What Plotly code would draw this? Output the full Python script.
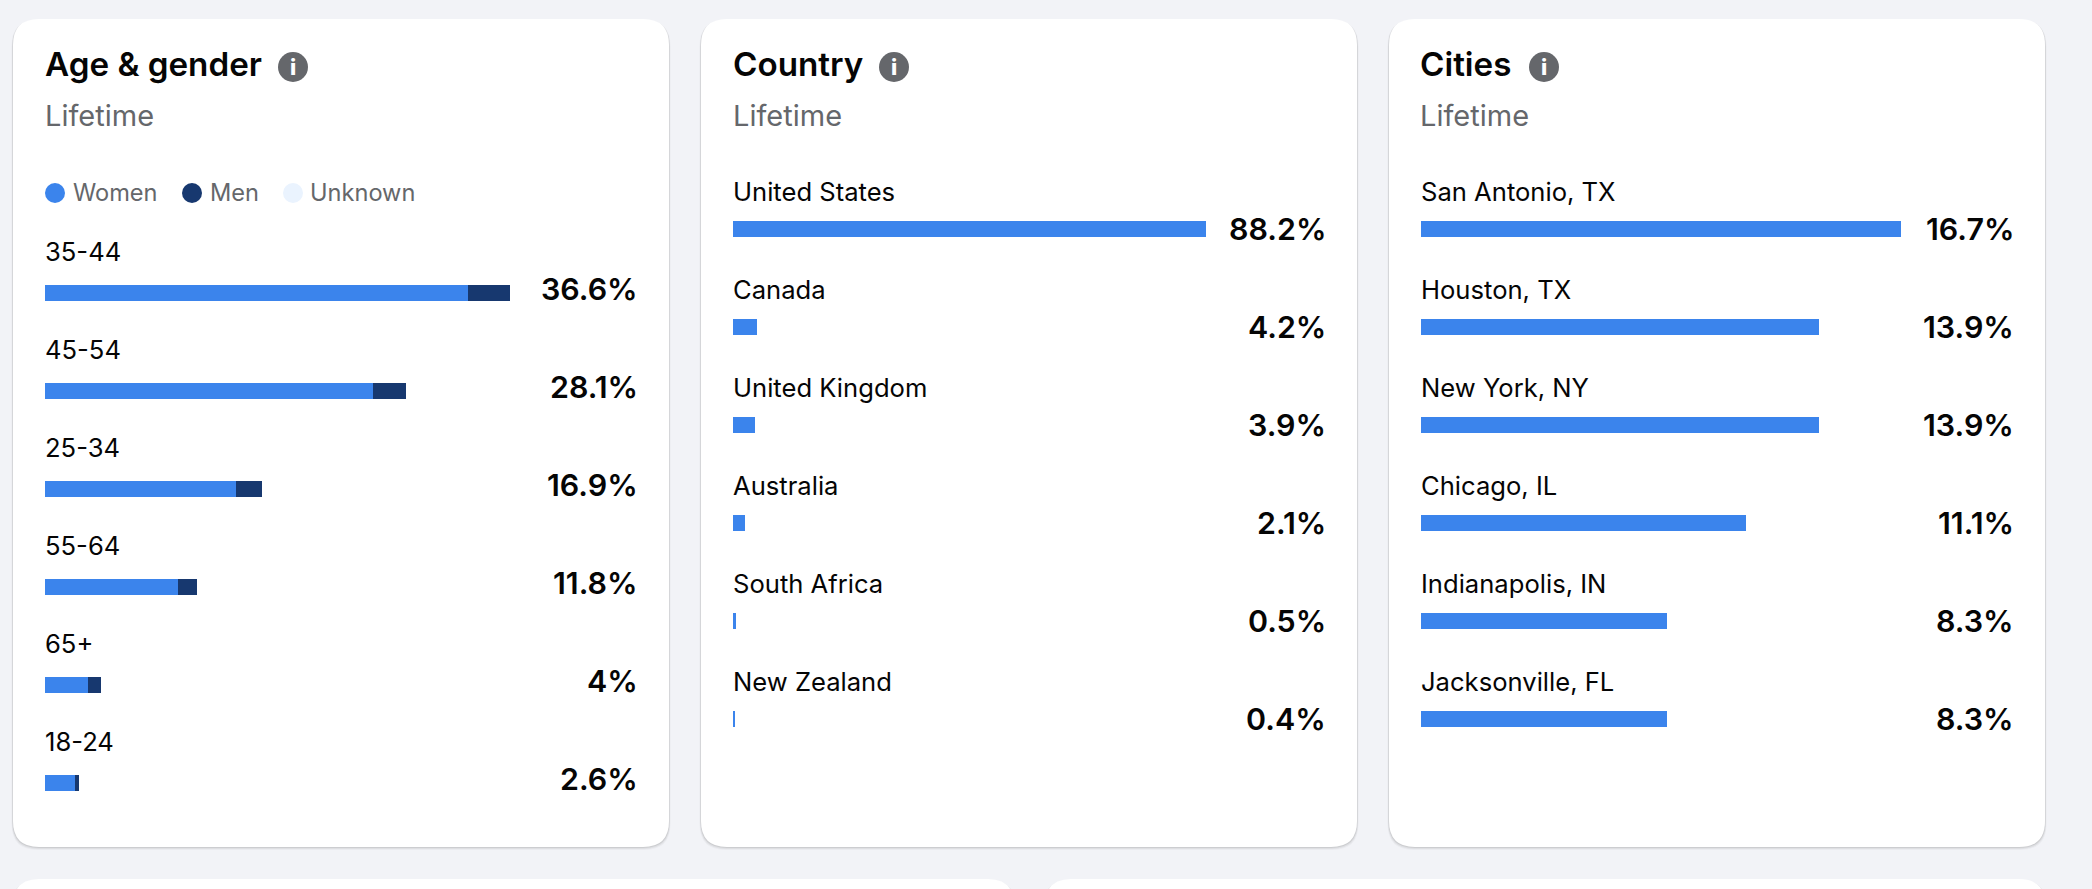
import plotly.graph_objects as go

W = 2092
H = 889

# data
age_groups = ["35-44", "45-54", "25-34", "55-64", "65+", "18-24"]
age_women = [33.3, 25.8, 15.0, 10.5, 3.4, 2.35]
age_men = [3.3, 2.6, 2.1, 1.5, 1.0, 0.33]
age_labels = ["36.6%", "28.1%", "16.9%", "11.8%", "4%", "2.6%"]

countries = ["United States", "Canada", "United Kingdom", "Australia", "South Africa", "New Zealand"]
country_values = [88.2, 4.4, 4.1, 2.2, 0.55, 0.4]
country_labels = ["88.2%", "4.2%", "3.9%", "2.1%", "0.5%", "0.4%"]

cities = ["San Antonio, TX", "Houston, TX", "New York, NY", "Chicago, IL", "Indianapolis, IN", "Jacksonville, FL"]
city_values = [16.7, 13.83, 13.83, 11.3, 8.55, 8.55]
city_labels = ["16.7%", "13.9%", "13.9%", "11.1%", "8.3%", "8.3%"]

legend_names = ["Women", "Men", "Unknown"]

BLUE = "#3b84ec"
NAVY = "#17386f"
PALE = "#eaf3fe"
GRAY = "#65676b"
FONT = "Inter"

fig = go.Figure()


def px(x):
    return x / W


def py(y):
    return 1 - y / H


def card_path(x0, y0, x1, y1, r=26):
    return (
        f"M {px(x0 + r)} {py(y0)} L {px(x1 - r)} {py(y0)} Q {px(x1)} {py(y0)} {px(x1)} {py(y0 + r)} "
        f"L {px(x1)} {py(y1 - r)} Q {px(x1)} {py(y1)} {px(x1 - r)} {py(y1)} "
        f"L {px(x0 + r)} {py(y1)} Q {px(x0)} {py(y1)} {px(x0)} {py(y1 - r)} "
        f"L {px(x0)} {py(y0 + r)} Q {px(x0)} {py(y0)} {px(x0 + r)} {py(y0)} Z"
    )


def add_card(x0, y0, x1, y1):
    # soft shadow, then the white card
    for grow, alpha in [(3, 0.03), (2, 0.05), (1, 0.08)]:
        fig.add_shape(type="path", xref="paper", yref="paper", layer="below", line_width=0,
                      path=card_path(x0 - grow * 0.5, y0 + 1, x1 + grow * 0.5, y1 + grow),
                      fillcolor=f"rgba(0,0,0,{alpha})")
    fig.add_shape(type="path", xref="paper", yref="paper", layer="below", line_width=0,
                  path=card_path(x0, y0, x1, y1), fillcolor="white")


def add_text(x, y, text, size, color="#050505", weight=400, anchor="left"):
    fig.add_annotation(x=px(x), y=py(y), xref="paper", yref="paper", text=text, showarrow=False,
                       xanchor=anchor, yanchor="middle",
                       font=dict(family=FONT, size=size, color=color, weight=weight))


def add_dot(cx, cy, d, color):
    fig.add_shape(type="circle", xref="paper", yref="paper", layer="above", line_width=0, fillcolor=color,
                  x0=px(cx - d / 2), x1=px(cx + d / 2), y0=py(cy - d / 2), y1=py(cy + d / 2))


def add_panel(n, cats, labels, x_left, x_right, top, xmax, right, name_shift, label_shift):
    xname = f"x{n}" if n > 1 else "x"
    yname = f"y{n}" if n > 1 else "y"
    fig.update_layout({
        f"xaxis{n if n > 1 else ''}": dict(domain=[px(x_left), px(x_right)], range=[0, xmax], visible=False,
                                           fixedrange=True, anchor=yname),
        f"yaxis{n if n > 1 else ''}": dict(domain=[py(top + 588), py(top)], range=[5.5, -0.5], type="category",
                                           categoryorder="array", categoryarray=cats, visible=False,
                                           fixedrange=True, anchor=xname),
    })
    for cat, lab in zip(cats, labels):
        fig.add_annotation(x=0, y=cat, xref=xname, yref=yname, text=cat, showarrow=False, xanchor="left",
                           xshift=name_shift[0], yshift=name_shift[1],
                           font=dict(family=FONT, size=25.6, color="#050505"))
        fig.add_annotation(x=px(right), y=cat, xref="paper", yref=yname, text=lab, showarrow=False,
                           xanchor="right", yshift=label_shift,
                           font=dict(family=FONT, size=30.4, color="#050505", weight=600))


# cards
add_card(13, 19, 669, 847)
add_card(701, 19, 1357, 847)
add_card(1389, 19, 2045, 847)
add_card(13, 879, 1014, 960)
add_card(1045, 879, 2045, 960)

# headers
headers = [("Age & gender", 43, 293), ("Country", 731, 894), ("Cities", 1418, 1544)]
for title, x, icon_x in headers:
    add_text(x, 64, title, 33.2, weight=600)
    add_text(x, 116, "Lifetime", 29, color=GRAY)
    add_dot(icon_x, 67, 30, GRAY)
    add_text(icon_x, 67, "i", 22, color="white", weight=800, anchor="center")

# legend
legend_colors = [BLUE, NAVY, PALE]
legend_dots = [55, 192, 293]
legend_text = [71, 208, 308]
for name, col, dx, tx in zip(legend_names, legend_colors, legend_dots, legend_text):
    add_dot(dx, 193, 20, col)
    add_text(tx, 193, name, 23.6, color=GRAY)

# age & gender, stacked
fig.add_trace(go.Bar(y=age_groups, x=age_women, orientation="h", marker=dict(color=BLUE, line_width=0),
                     width=16 / 98, name="Women", xaxis="x", yaxis="y"))
fig.add_trace(go.Bar(y=age_groups, x=age_men, orientation="h", marker=dict(color=NAVY, line_width=0),
                     width=16 / 98, name="Men", xaxis="x", yaxis="y"))
add_panel(1, age_groups, age_labels, 45, 510, 244, sum([age_women[0], age_men[0]]), 640, (-2, 42), 4)

# country
fig.add_trace(go.Bar(y=countries, x=country_values, orientation="h", marker=dict(color=BLUE, line_width=0),
                     width=16 / 98, xaxis="x2", yaxis="y2"))
add_panel(2, countries, country_labels, 733, 1206, 180, 88.2, 1328, (-2, 38), 0)

# cities
fig.add_trace(go.Bar(y=cities, x=city_values, orientation="h", marker=dict(color=BLUE, line_width=0),
                     width=16 / 98, xaxis="x3", yaxis="y3"))
add_panel(3, cities, city_labels, 1421, 1901, 180, 16.7, 2016, (-2, 38), 0)

fig.update_layout(
    width=W,
    height=H,
    barmode="stack",
    showlegend=False,
    margin=dict(l=0, r=0, t=0, b=0),
    paper_bgcolor="#f2f3f7",
    plot_bgcolor="rgba(0,0,0,0)",
)

fig.write_html("out.html", config={"displayModeBar": False},
               post_script="document.body.style.margin='0';document.body.style.overflow='hidden';")
